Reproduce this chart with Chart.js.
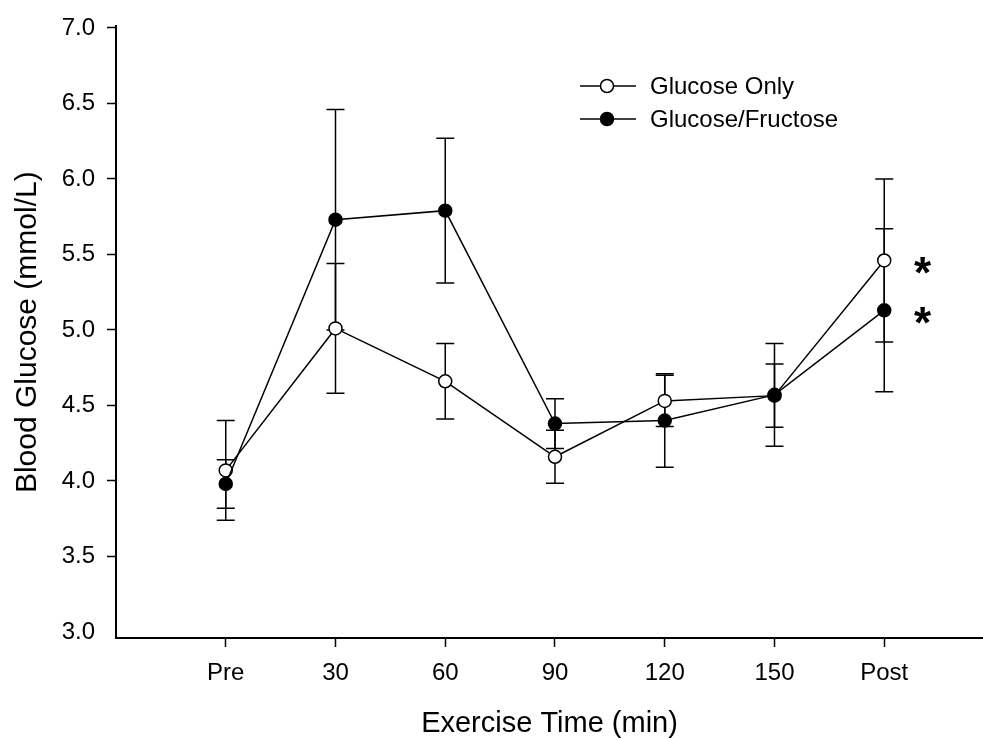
<!DOCTYPE html>
<html>
<head>
<meta charset="utf-8">
<script src="https://cdn.jsdelivr.net/npm/chart.js@4.4.0/dist/chart.umd.min.js"></script>
<style>
  html, body { margin: 0; padding: 0; background: #fff; }
</style>
</head>
<body>
<canvas id="glucoseChart" width="983" height="738"></canvas>
<script>
// time points
const timeLabels = ['Pre', '30', '60', '90', '120', '150', 'Post'];
// mean blood glucose (mmol/L) and error (SE)
const glucoseOnly = [4.07, 5.01, 4.66, 4.16, 4.53, 4.565, 5.46];
const glucoseOnlyErr = [0.33, 0.43, 0.25, 0.175, 0.17, 0.21, 0.54];
const glucoseFructose = [3.98, 5.73, 5.79, 4.38, 4.40, 4.57, 5.13];
const glucoseFructoseErr = [0.16, 0.73, 0.48, 0.165, 0.31, 0.34, 0.54];
const yTicks = [3.0, 3.5, 4.0, 4.5, 5.0, 5.5, 6.0, 6.5, 7.0];
// points flagged as significant
const significant = [{ series: glucoseOnly, index: 6 }, { series: glucoseFructose, index: 6 }];

const FONT = '"Liberation Sans", Arial, Helvetica, sans-serif';
Chart.defaults.font.family = FONT;
Chart.defaults.color = '#000';

function toPoints(values) {
  return values.map((v, i) => ({ x: i, y: v }));
}

const errorBars = {
  id: 'errorBars',
  beforeDatasetsDraw(chart) {
    const { ctx, scales: { x, y } } = chart;
    ctx.save();
    ctx.strokeStyle = '#000';
    ctx.lineWidth = 1.5;
    chart.data.datasets.forEach(ds => {
      ds.data.forEach((pt, i) => {
        const px = x.getPixelForValue(pt.x);
        const top = y.getPixelForValue(pt.y + ds.errors[i]);
        const bot = y.getPixelForValue(pt.y - ds.errors[i]);
        ctx.beginPath();
        ctx.moveTo(px, top); ctx.lineTo(px, bot);
        ctx.moveTo(px - 9, top); ctx.lineTo(px + 9, top);
        ctx.moveTo(px - 9, bot); ctx.lineTo(px + 9, bot);
        ctx.stroke();
      });
    });
    ctx.restore();
  }
};

const asterisks = {
  id: 'asterisks',
  afterDatasetsDraw(chart) {
    const { ctx, scales: { x, y } } = chart;
    ctx.save();
    ctx.fillStyle = '#000';
    ctx.font = 'bold 44px ' + FONT;
    ctx.textAlign = 'center';
    ctx.textBaseline = 'alphabetic';
    const m = ctx.measureText('*');
    const mid = (m.actualBoundingBoxAscent - m.actualBoundingBoxDescent) / 2;
    significant.forEach(s => {
      const px = x.getPixelForValue(s.index + 0.35);
      const py = y.getPixelForValue(s.series[s.index]) + 5;
      ctx.fillText('*', px, py + mid);
    });
    ctx.restore();
  }
};

const legendBox = {
  id: 'legendBox',
  afterDraw(chart) {
    const ctx = chart.ctx;
    const items = [
      { text: 'Glucose Only', fill: '#fff', y: 86 },
      { text: 'Glucose/Fructose', fill: '#000', y: 119 }
    ];
    ctx.save();
    ctx.font = '24px ' + FONT;
    ctx.textBaseline = 'middle';
    ctx.textAlign = 'left';
    items.forEach(it => {
      ctx.strokeStyle = '#000';
      ctx.lineWidth = 1.5;
      ctx.beginPath();
      ctx.moveTo(580, it.y); ctx.lineTo(636, it.y);
      ctx.stroke();
      ctx.beginPath();
      ctx.arc(607, it.y, 6.5, 0, Math.PI * 2);
      ctx.fillStyle = it.fill;
      ctx.fill();
      ctx.stroke();
      ctx.fillStyle = '#000';
      ctx.fillText(it.text, 650, it.y + 1);
    });
    ctx.restore();
  }
};

new Chart(document.getElementById('glucoseChart'), {
  type: 'line',
  data: {
    datasets: [
      {
        label: 'Glucose Only',
        data: toPoints(glucoseOnly),
        errors: glucoseOnlyErr,
        order: 1,
        borderColor: '#000',
        borderWidth: 1.5,
        backgroundColor: '#fff',
        pointBackgroundColor: '#fff',
        pointBorderColor: '#000',
        pointBorderWidth: 1.5,
        pointRadius: 6.5,
        tension: 0
      },
      {
        label: 'Glucose/Fructose',
        data: toPoints(glucoseFructose),
        errors: glucoseFructoseErr,
        order: 0,
        borderColor: '#000',
        borderWidth: 1.5,
        backgroundColor: '#000',
        pointBackgroundColor: '#000',
        pointBorderColor: '#000',
        pointBorderWidth: 1.5,
        pointRadius: 6.5,
        tension: 0
      }
    ]
  },
  options: {
    responsive: false,
    animation: false,
    layout: { autoPadding: false, padding: { top: 23, right: 0, left: 0, bottom: 0 } },
    plugins: {
      legend: { display: false },
      tooltip: { enabled: false }
    },
    scales: {
      x: {
        type: 'linear',
        min: -1,
        max: 6.9,
        afterBuildTicks: s => { s.ticks = timeLabels.map((_, i) => ({ value: i })); },
        afterFit: s => { s.height = 100; s.paddingLeft = 0; s.paddingRight = 0; },
        grid: { drawOnChartArea: false, drawTicks: true, tickLength: 9, tickWidth: 1.5, tickColor: '#000' },
        border: { display: true, color: '#000', width: 2 },
        ticks: {
          font: { size: 24 },
          padding: 12,
          maxRotation: 0,
          callback: v => timeLabels[v]
        },
        title: {
          display: true,
          text: 'Exercise Time (min)',
          font: { size: 29, lineHeight: 1 },
          padding: { top: 0, bottom: 0 }
        }
      },
      y: {
        min: 2.96,
        max: 7.01,
        afterBuildTicks: s => { s.ticks = yTicks.map(v => ({ value: v })); },
        afterFit: s => { s.width = 116; },
        grid: {
          drawOnChartArea: false, drawTicks: true, tickLength: 9, tickWidth: 1.5,
          tickColor: ctx => (ctx.tick && ctx.tick.value === 3 ? 'rgba(0,0,0,0)' : '#000')
        },
        border: { display: true, color: '#000', width: 2 },
        ticks: {
          font: { size: 24 },
          padding: 12,
          callback: v => v.toFixed(1)
        },
        title: {
          display: true,
          text: 'Blood Glucose (mmol/L)',
          font: { size: 30, lineHeight: 1 },
          padding: { top: 13, bottom: 0 }
        }
      }
    }
  },
  plugins: [errorBars, asterisks, legendBox]
});
</script>
</body>
</html>
